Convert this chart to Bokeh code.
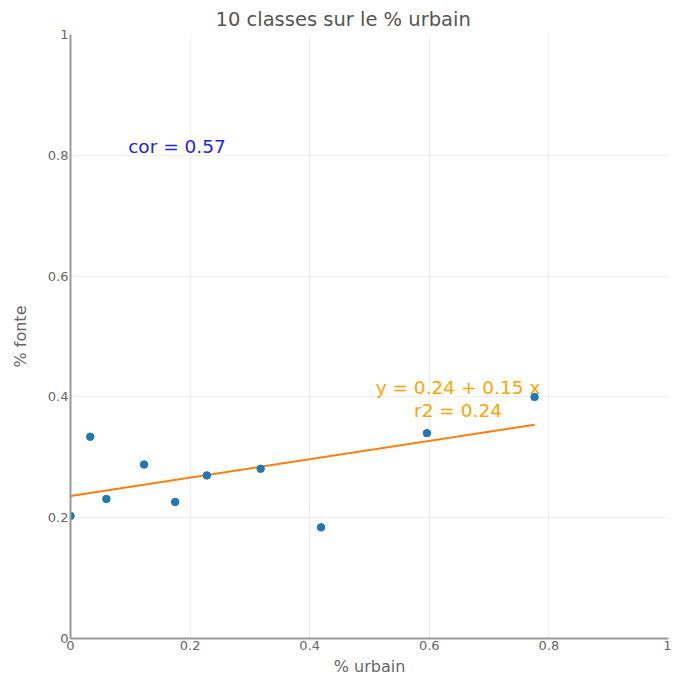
import numpy as np
from bokeh.plotting import figure
from bokeh.models import ColumnDataSource, FixedTicker, Range1d
from bokeh.core.properties import value
from bokeh.embed import file_html
from bokeh.resources import INLINE

# data
pct_urbain = [0.0, 0.033, 0.060, 0.123, 0.175, 0.228, 0.318, 0.419, 0.596, 0.776]
pct_fonte = [0.203, 0.334, 0.231, 0.288, 0.226, 0.270, 0.281, 0.184, 0.340, 0.400]

fit_intercept = 0.236
fit_slope = 0.152

tick_values = [0, 0.2, 0.4, 0.6, 0.8, 1]
tick_labels = ["0", "0.2", "0.4", "0.6", "0.8", "1"]

cor_text = ["cor = 0.57"]
cor_pos_x = [0.178]
cor_pos_y = [0.815]

eq_text = ["y = 0.24 + 0.15 x", "r2 = 0.24"]
eq_pos_x = [0.648, 0.648]
eq_pos_y = [0.416, 0.377]

FONT = "DejaVu Sans"

p = figure(width=671, height=679, output_backend="svg", toolbar_location=None,
           x_range=Range1d(0, 1), y_range=Range1d(0, 1),
           min_border_left=70, min_border_right=3, min_border_top=34, min_border_bottom=41,
           title="10 classes sur le % urbain")
p.outline_line_color = None
p.background_fill_color = "white"
p.border_fill_color = "white"

p.title.align = "left"
p.title.offset = 145
p.title.text_font = FONT
p.title.text_font_size = "19.5px"
p.title.text_font_style = "normal"
p.title.text_color = "#555555"
p.title.standoff = 8

for ax in (p.xaxis[0], p.yaxis[0]):
    ax.ticker = FixedTicker(ticks=tick_values)
    ax.major_label_overrides = {v: l for v, l in zip(tick_values, tick_labels)}
    ax.major_tick_out = 0
    ax.major_tick_in = 0
    ax.minor_tick_out = 0
    ax.minor_tick_in = 0
    ax.axis_line_color = "#999999"
    ax.axis_line_width = 2
    ax.major_label_text_font = FONT
    ax.major_label_text_font_size = "13px"
    ax.major_label_text_color = "#666666"
    ax.axis_label_text_font = FONT
    ax.axis_label_text_font_size = "16px"
    ax.axis_label_text_font_style = "normal"
    ax.axis_label_text_color = "#666666"

p.xaxis.axis_label = "% urbain"
p.yaxis.axis_label = "% fonte"
p.xaxis.major_label_standoff = 2
p.xaxis.axis_label_standoff = 4
p.yaxis.major_label_standoff = 2
p.yaxis.axis_label_standoff = 15

p.xgrid.ticker = FixedTicker(ticks=tick_values)
p.ygrid.ticker = FixedTicker(ticks=tick_values)
p.grid.grid_line_color = "#eeeeee"
p.grid.grid_line_width = 1

# regression line over the observed x range
xs_fit = np.array([min(pct_urbain), max(pct_urbain)])
ys_fit = fit_intercept + fit_slope * xs_fit
p.line(xs_fit, ys_fit, line_color="#ff7f0e", line_width=2)

src = ColumnDataSource(dict(x=pct_urbain, y=pct_fonte))
p.scatter("x", "y", source=src, size=7.5, fill_color="#1f77b4", line_color="#1f77b4")

p.text(x=cor_pos_x, y=cor_pos_y, text=cor_text, text_align="center", text_baseline="middle",
       text_font=value(FONT), text_font_size="18.5px", text_color="#2222ee")
p.text(x=eq_pos_x, y=eq_pos_y, text=eq_text, text_align="center", text_baseline="middle",
       text_font=value(FONT), text_font_size="18.5px", text_color="#ffa500")

open("out.html", "w").write(file_html(p, INLINE))
